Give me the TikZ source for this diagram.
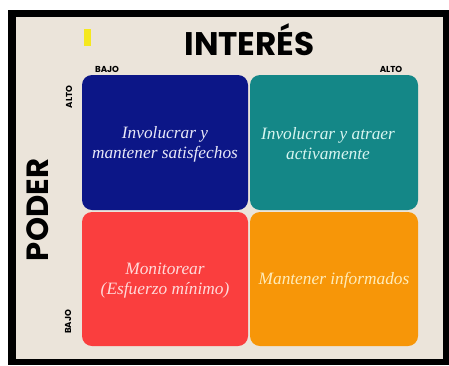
\documentclass[tikz,border=0pt]{standalone}
\usepackage{fontspec}
\setmainfont{Liberation Serif}
\newfontfamily\headfont{Poppins}

\definecolor{paper}{RGB}{235,228,218}
\definecolor{navycard}{RGB}{12,22,135}
\definecolor{tealcard}{RGB}{20,135,135}
\definecolor{redcard}{RGB}{250,62,62}
\definecolor{orangecard}{RGB}{247,150,8}
\definecolor{marker}{RGB}{245,232,30}

\tikzset{every picture/.style={line width=0.75pt}}
\tikzset{
  card/.style={rounded corners=7.5pt},
  cardtext/.style={align=center, inner sep=0.75pt, font=\itshape\fontsize{13}{15}\selectfont},
  bigtitle/.style={inner sep=0pt, font=\headfont\bfseries\fontsize{24.5}{26}\selectfont},
  axislabel/.style={inner sep=0pt, font=\headfont\bfseries\fontsize{6.5}{7}\selectfont}
}

\begin{document}
\begin{tikzpicture}[x=0.75pt,y=0.75pt,yscale=-1,xscale=1]
\useasboundingbox (0,0) rectangle (449,365);

%Frame
\fill [white] (0,0) rectangle (449,365);
\fill [black] (8,10) rectangle (449,365);
\fill [paper] (16,17) rectangle (443,359);

%Yellow mark
\fill [marker] (84,29) rectangle (91,46);

%Cards
\fill [card, navycard] (82,75) rectangle (248,210);
\fill [card, tealcard] (250,75) rectangle (418,210);
\fill [card, redcard] (82,212) rectangle (248,346);
\fill [card, orangecard] (250,212) rectangle (418,346);

% Text Node
\node [bigtitle, anchor=base] (interes) at (249.5,55) {INTERÉS};
% Text Node
\node [bigtitle, anchor=base, rotate=90, font=\headfont\bfseries\fontsize{23}{25}\selectfont] (poder) at (48,210) {PODER};
% Text Node
\node [axislabel, anchor=base] (bajox) at (107,72) {BAJO};
% Text Node
\node [axislabel, anchor=base] (altox) at (391,72) {ALTO};
% Text Node
\node [axislabel, anchor=base, rotate=90] (altoy) at (72,97) {ALTO};
% Text Node
\node [axislabel, anchor=base, rotate=90] (bajoy) at (71,322) {BAJO};

% Text Node
\node [cardtext, text={rgb,255:red,232;green,232;blue,248}] (satisfechos) at (165,144) {Involucrar y\\mantener satisfechos};
% Text Node
\node [cardtext, text={rgb,255:red,215;green,245;blue,240}] (atraer) at (328,144) {Involucrar y atraer\\activamente};
% Text Node
\node [cardtext, text={rgb,255:red,255;green,218;blue,218}] (monitorear) at (165,281) {Monitorear\\(Esfuerzo mínimo)};
% Text Node
\node [cardtext, text={rgb,255:red,255;green,236;blue,185}] (informados) at (334,280) {Mantener informados};

\end{tikzpicture}
\end{document}
